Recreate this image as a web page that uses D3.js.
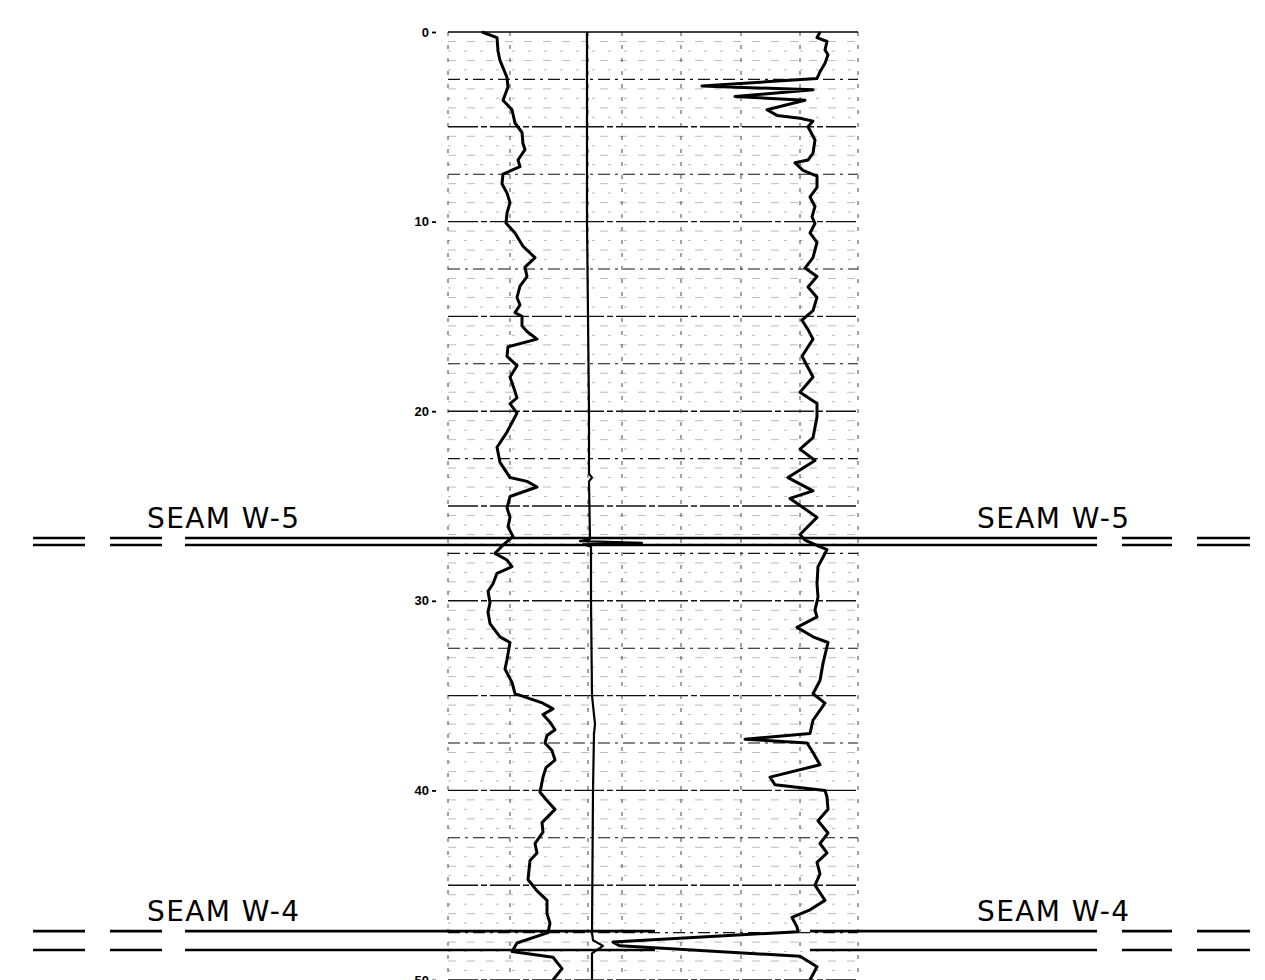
<!DOCTYPE html>
<html>
<head>
<meta charset="utf-8">
<script src="https://cdn.jsdelivr.net/npm/d3@7"></script>
<style>
  body { margin: 0; background: #fff; }
</style>
</head>
<body>
<div class="canvas"></div>
<script>
// depth in feet, log readings in chart divisions
const depthTicks = [0, 10, 20, 30, 40, 50];
const gridCols = [0, 6.2, 14, 17.4, 23.3, 29.3, 35.2, 41];

const seamNames = ['SEAM W-5', 'SEAM W-4'];
const seamTop = [26.69, 47.42];
const seamBase = [27.06, 48.42];

// left trace [depth, reading]
const leftLog = [
  [0, 3.4], [0.3, 4.9], [1.0, 5.0], [1.5, 5.2], [2.4, 5.9], [2.9, 6.0], [3.6, 5.5], [4.1, 6.4],
  [4.8, 6.7], [5.3, 7.4], [5.9, 7.5], [6.2, 7.7], [6.75, 7.0], [7.1, 7.2], [7.5, 5.5], [8.0, 5.4],
  [8.5, 5.9], [9.0, 6.2], [9.55, 5.9], [10.07, 5.8], [10.6, 6.7], [11.3, 7.5], [11.9, 8.7],
  [12.4, 7.7], [12.9, 7.9], [13.4, 7.2], [14.0, 6.9], [14.4, 7.2], [14.8, 6.7], [15.0, 7.4],
  [15.5, 7.4], [15.8, 7.9], [16.2, 8.9], [16.6, 6.0], [17.1, 5.9], [17.6, 6.9], [18.2, 6.2],
  [18.8, 6.6], [19.3, 6.9], [19.6, 6.2], [20.1, 6.9], [21.1, 5.9], [21.9, 4.9], [22.7, 5.2],
  [23.5, 6.2], [23.7, 7.9], [24.0, 8.9], [24.5, 6.2], [25.1, 5.9], [25.6, 6.2], [26.1, 6.0],
  [26.6, 6.5], [27.06, 5.5], [27.5, 4.7], [27.85, 5.9], [28.2, 6.4], [28.55, 4.9], [29.1, 4.5],
  [29.5, 4.0], [30.1, 4.2], [30.6, 4.0], [31.2, 4.2], [31.9, 5.2], [32.2, 6.2], [33.1, 5.9],
  [33.6, 5.7], [34.3, 6.4], [34.9, 6.7], [35.4, 9.5], [35.7, 10.5], [36.0, 9.5], [36.4, 10.2],
  [36.8, 10.7], [37.1, 9.9], [37.5, 9.7], [37.9, 10.4], [38.4, 10.7], [38.8, 9.8], [39.3, 9.5],
  [40.1, 9.2], [40.6, 10.0], [41.0, 10.7], [41.7, 9.4], [42.2, 9.5], [42.8, 8.7], [43.3, 8.9],
  [43.7, 8.2], [44.7, 8.0], [45.3, 8.9], [45.8, 9.9], [46.5, 9.9], [47.0, 10.2], [47.5, 10.0],
  [48.05, 6.9], [48.5, 6.4], [48.8, 10.5], [49.4, 11.4], [50, 10.5]
];

// middle trace
const midLog = [
  [0, 13.9], [10, 13.9], [20, 14.1], [23.3, 14.1], [23.5, 14.4], [23.7, 14.1], [26.75, 14.2],
  [26.85, 13.2], [26.95, 19.4], [27.02, 13.5], [27.15, 14.3], [30, 14.3], [35, 14.4],
  [36.5, 14.7], [37, 14.6], [40, 14.5], [47.5, 14.4], [47.9, 14.5], [48.2, 15.5],
  [48.45, 14.8], [48.6, 14.4], [50, 14.4]
];

// right trace
const rightLog = [
  [0, 37.2], [0.3, 36.9], [0.5, 37.9], [0.95, 37.7], [1.2, 38.0], [1.65, 37.7], [2.1, 37.2],
  [2.45, 36.9], [2.85, 25.4], [3.05, 36.5], [3.4, 28.7], [3.6, 35.7], [4.1, 31.9], [4.4, 32.9],
  [4.55, 35.2], [4.7, 36.5], [5.0, 36.0], [5.7, 36.7], [6.4, 36.5], [6.75, 36.0], [6.9, 34.7],
  [7.3, 35.5], [7.6, 36.9], [8.2, 36.9], [8.7, 36.2], [9.2, 36.7], [9.75, 36.4], [10.1, 36.7],
  [10.6, 36.2], [11.1, 36.9], [11.9, 36.5], [12.45, 35.7], [12.9, 36.9], [13.45, 36.0],
  [14.0, 36.9], [14.7, 36.5], [15.2, 35.4], [15.7, 36.0], [16.2, 36.5], [17.1, 35.4],
  [18.2, 36.5], [19.0, 35.2], [19.6, 36.9], [20.3, 36.9], [21.4, 36.5], [22.0, 35.2],
  [22.6, 36.7], [23.5, 34.0], [24.2, 36.5], [24.6, 34.2], [25.6, 36.9], [26.5, 35.2],
  [26.8, 35.7], [27.1, 37.0], [27.3, 37.9], [27.7, 37.5], [28.2, 37.0], [29.1, 36.9],
  [29.8, 37.0], [30.5, 36.7], [30.85, 36.9], [31.4, 34.9], [31.9, 36.5], [32.2, 38.0],
  [33.3, 37.5], [34.2, 37.2], [34.9, 36.5], [35.4, 37.7], [36.3, 36.5], [37.0, 36.2],
  [37.3, 29.7], [37.5, 35.9], [38.0, 36.5], [38.65, 37.2], [39.3, 32.2], [39.7, 32.7],
  [40.0, 37.7], [40.35, 37.9], [41.0, 38.0], [41.6, 37.0], [42.25, 38.0], [42.8, 37.2],
  [43.3, 37.9], [43.8, 36.9], [44.4, 37.2], [45.0, 36.7], [45.8, 37.7], [46.3, 36.2],
  [46.7, 34.4], [47.2, 34.9], [47.45, 35.0], [48.0, 16.5], [48.2, 17.2], [48.75, 35.2],
  [49.3, 36.9], [50, 36.2]
];

const svg = d3.select('.canvas')
    .append('svg')
    .attr('width', 1265)
    .attr('height', 980);

const y = d3.scaleLinear().domain([0, 50]).range([32, 980]);
const x = d3.scaleLinear().domain([0, 41]).range([448, 858]);

// grid
const grid = svg.append('g');
const minor = d3.range(0.5, 50, 0.5).filter(d => d % 2.5 !== 0);
const major = d3.range(2.5, 50.1, 2.5);

grid.selectAll('.minor')
    .data(minor)
    .enter()
    .append('line')
    .attr('x1', x(0)).attr('x2', x(41))
    .attr('y1', d => y(d)).attr('y2', d => y(d))
    .attr('stroke', '#666')
    .attr('stroke-width', 0.8)
    .attr('stroke-dasharray', (d, i) => i % 2 ? '3,13' : '8,11')
    .attr('opacity', 0.55);

grid.selectAll('.major')
    .data(major)
    .enter()
    .append('line')
    .attr('x1', x(0)).attr('x2', x(41))
    .attr('y1', d => y(d)).attr('y2', d => y(d))
    .attr('stroke', '#111')
    .attr('stroke-width', d => d % 5 === 0 ? 1.4 : 1.1)
    .attr('stroke-dasharray', d => d % 5 === 0 ? '30,3,6,3' : '12,5,3,5');

grid.selectAll('.col')
    .data(gridCols)
    .enter()
    .append('line')
    .attr('x1', d => x(d)).attr('x2', d => x(d))
    .attr('y1', y(0)).attr('y2', y(50))
    .attr('stroke', '#444')
    .attr('stroke-width', 1)
    .attr('stroke-dasharray', '4,9');

// top border
grid.append('line')
    .attr('x1', x(0)).attr('x2', x(41))
    .attr('y1', y(0)).attr('y2', y(0))
    .attr('stroke', '#000')
    .attr('stroke-width', 1.6);

// depth axis
const axis = svg.append('g')
    .attr('transform', 'translate(436,0)')
    .call(d3.axisLeft(y).tickValues(depthTicks).tickSize(4).tickPadding(3));
axis.select('.domain').remove();
axis.selectAll('text')
    .attr('fill', '#000')
    .style('font-family', 'Liberation Sans, Arial, sans-serif')
    .style('font-weight', 'bold')
    .style('font-size', '13px');
axis.selectAll('line').attr('stroke', '#000').attr('stroke-width', 1.8);

// seams
const seamSegs = [[33, 85], [110, 162], [185, 1097], [1122, 1172], [1197, 1250]];
seamNames.forEach((name, i) => {
    const g = svg.append('g');
    [seamTop[i], seamBase[i]].forEach(dep => {
        let segs = seamSegs;
        if (i === 1) segs = [[33, 85], [110, 162], [185, 655], [810, 1097], [1122, 1172], [1197, 1250]];
        g.selectAll(null)
            .data(segs)
            .enter()
            .append('line')
            .attr('x1', s => s[0]).attr('x2', s => s[1])
            .attr('y1', y(dep)).attr('y2', y(dep))
            .attr('stroke', '#000')
            .attr('stroke-width', 2.6);
    });
    [147, 977].forEach(tx => {
        g.append('text')
            .attr('x', tx)
            .attr('y', y(seamTop[i]) - 10)
            .attr('textLength', 152)
            .attr('lengthAdjust', 'spacing')
            .style('font-family', 'DejaVu Sans, sans-serif')
            .style('font-size', '28px')
            .attr('fill', '#000')
            .text(name);
    });
});

// traces
const line = d3.line()
    .x(d => x(d[1]))
    .y(d => y(d[0]));

[[leftLog, 3], [midLog, 2.2], [rightLog, 3]].forEach(([data, w]) => {
    svg.append('path')
        .datum(data)
        .attr('d', line)
        .attr('fill', 'none')
        .attr('stroke', '#000')
        .attr('stroke-width', w)
        .attr('stroke-linejoin', 'round');
});
</script>
</body>
</html>
